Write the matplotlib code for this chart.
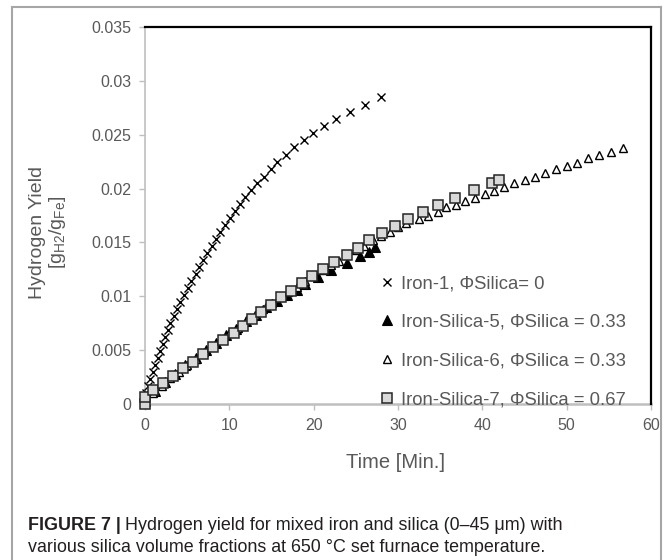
import matplotlib
matplotlib.use("Agg")
import matplotlib.pyplot as plt
from matplotlib import font_manager
from matplotlib.lines import Line2D

# ---------------- data ----------------
iron1_x = [0.1, 0.35, 0.6, 0.9, 1.2, 1.5, 1.8, 2.1, 2.4, 2.7, 3.0, 3.4, 3.8, 4.2, 4.6,
           5.1, 5.5, 6.0, 6.4, 6.9, 7.4, 7.9, 8.4, 8.9, 9.5, 10.1, 10.7, 11.3, 11.9, 12.6,
           13.3, 14.1, 14.9, 15.7, 16.7, 17.7, 18.8, 19.9, 21.2, 22.7, 24.3, 26.1, 28.0]
iron1_y = [0.0010, 0.0017, 0.0023, 0.0030, 0.0036, 0.0043, 0.0049, 0.0056, 0.0062, 0.0069,
           0.0075, 0.0082, 0.0088, 0.0095, 0.0101, 0.0108, 0.0114, 0.0121, 0.0127, 0.0134,
           0.0140, 0.0147, 0.0153, 0.0160, 0.0166, 0.0173, 0.0179, 0.0186, 0.0192, 0.0199,
           0.0205, 0.0211, 0.0218, 0.0225, 0.0231, 0.0239, 0.0245, 0.0252, 0.0258, 0.0265,
           0.0271, 0.0278, 0.0285]

silica5_x = [0.0, 1.2, 2.4, 3.6, 4.8, 6.0, 7.2, 8.4, 9.6, 10.8, 12.0, 13.2, 14.4, 15.6,
             16.8, 18.0, 19.0, 20.5, 22.1, 23.9, 25.5, 26.6, 27.3]
silica5_y = [0.0003, 0.0012, 0.0020, 0.0028, 0.0036, 0.0043, 0.0050, 0.0057, 0.0064, 0.0070,
             0.0077, 0.0083, 0.0090, 0.0096, 0.0101, 0.0106, 0.0111, 0.0118, 0.0124, 0.0131,
             0.0137, 0.0141, 0.0146]

silica6_x = [0, 1, 2, 3, 4, 5, 6, 7, 8, 9, 10, 11, 12, 13, 14, 15, 16, 17, 18, 19, 20,
             21, 22, 23, 24, 25, 26, 27, 28, 29, 30, 31,
             32.5, 33.6, 34.7, 35.7, 36.9, 38.0, 39.1, 40.3, 41.4, 42.6, 43.7, 45.0, 46.2,
             47.4, 48.7, 50.0, 51.2, 52.5, 53.8, 55.2, 56.7]
silica6_y = [0.0003, 0.0010, 0.0017, 0.0024, 0.0030, 0.0036, 0.0042, 0.0048, 0.0054, 0.0060,
             0.0066, 0.0071, 0.0077, 0.0083, 0.0088, 0.0094, 0.0099, 0.0104, 0.0109, 0.0114,
             0.0119, 0.0124, 0.0129, 0.0133, 0.0138, 0.0143, 0.0147, 0.0152, 0.0156, 0.0160,
             0.0164, 0.0168,
             0.0172, 0.0175, 0.0178, 0.0183, 0.0185, 0.0188, 0.0191, 0.0195, 0.0198, 0.0201,
             0.0205, 0.0208, 0.0211, 0.0214, 0.0218, 0.0221, 0.0224, 0.0228, 0.0231, 0.0234,
             0.0238]

silica7_x = [0.0, 0.0, 0.95, 2.1, 3.3, 4.5, 5.7, 6.9, 8.1, 9.3, 10.5, 11.6, 12.7, 13.8, 14.9,
             16.1, 17.3, 18.6, 19.8, 21.1, 22.4, 23.9, 25.2, 26.6, 28.1, 29.7, 31.2, 33.0,
             34.8, 36.8, 39.0, 41.1, 42.0]
silica7_y = [0.0000, 0.00065, 0.0013, 0.00195, 0.0026, 0.0033, 0.0039, 0.0046, 0.0053, 0.0059,
             0.0066, 0.0072, 0.0079, 0.0085, 0.0092, 0.0099, 0.0105, 0.0112, 0.0119, 0.0125,
             0.0132, 0.0138, 0.0145, 0.0152, 0.0159, 0.0165, 0.0172, 0.0178, 0.0185, 0.0191,
             0.0199, 0.0205, 0.0208]

labels = ["Iron-1, ΦSilica= 0",
          "Iron-Silica-5, ΦSilica = 0.33",
          "Iron-Silica-6, ΦSilica = 0.33",
          "Iron-Silica-7, ΦSilica = 0.67"]

x_ticks = [0, 10, 20, 30, 40, 50, 60]
y_ticks = [0, 0.005, 0.01, 0.015, 0.02, 0.025, 0.03, 0.035]
y_ticklabels = ["0", "0.005", "0.01", "0.015", "0.02", "0.025", "0.03", "0.035"]

x_title = "Time [Min.]"
y_title_1 = "Hydrogen Yield"
y_title_2 = "[g$_{H2}$/g$_{Fe}$]"
caption_bold = "FIGURE 7 |"
caption_rest_1 = "Hydrogen yield for mixed iron and silica (0–45 μm) with"
caption_rest_2 = "various silica volume fractions at 650 °C set furnace temperature."

# ---------------- style ----------------
plt.rcParams['font.family'] = ['Liberation Sans', 'DejaVu Sans']
plt.rcParams['mathtext.default'] = 'regular'
GRAY_TXT = '#595959'
GRAY_AX = '#bfbfbf'

W, H = 668, 560
fig = plt.figure(figsize=(W / 100, H / 100), dpi=100)
fig.patch.set_facecolor('white')

# outer gray frame
frame_col = '#a6a6a6'
fig.add_artist(Line2D([12 / W, 12 / W], [0, 1 - 7 / H], color=frame_col, lw=1.5))
fig.add_artist(Line2D([12 / W, 661 / W], [1 - 7 / H, 1 - 7 / H], color=frame_col, lw=1.5))
fig.add_artist(Line2D([661 / W, 661 / W], [0, 1 - 7 / H], color=frame_col, lw=1.5))

ax = fig.add_axes([145 / W, 1 - 404 / H, (651 - 145) / W, (404 - 27) / H])

h1, = ax.plot(iron1_x, iron1_y, linestyle='none', marker='x', ms=6.2, mew=1.0,
              color='black', label=labels[0], clip_on=False)
h2, = ax.plot(silica5_x, silica5_y, linestyle='none', marker='^', ms=6.5, mew=0.8,
              mfc='black', mec='black', label=labels[1], clip_on=False)
h3, = ax.plot(silica6_x, silica6_y, linestyle='none', marker='^', ms=6, mew=1.0,
              mfc='white', mec='black', label=labels[2], clip_on=False)
h4, = ax.plot(silica7_x, silica7_y, linestyle='none', marker='s', ms=6.5, mew=1.1,
              mfc='#d9d9d9', mec='#262626', label=labels[3], clip_on=False)

ax.set_xlim(0, 60)
ax.set_ylim(0, 0.035)
ax.set_xticks(x_ticks)
ax.set_yticks(y_ticks)
ax.set_yticklabels(y_ticklabels)
ax.tick_params(axis='both', direction='out', length=4, width=1, color=GRAY_AX,
               labelcolor=GRAY_TXT, labelsize=11.5, pad=6)

for side in ['top', 'right']:
    ax.spines[side].set_color('black')
    ax.spines[side].set_linewidth(1.6)
ax.spines['left'].set_color(GRAY_AX)
ax.spines['left'].set_linewidth(1.2)
ax.spines['bottom'].set_color(GRAY_AX)
ax.spines['bottom'].set_linewidth(1.8)
ax.spines['left'].set_zorder(0.5)
ax.spines['bottom'].set_zorder(0.5)

# axis titles
fig.text(396 / W, 1 - 463 / H, x_title, ha='center', va='center', fontsize=14.5, color=GRAY_TXT)
fig.text(38 / W, 1 - 232 / H, y_title_1, ha='center', va='center', rotation=90,
         fontsize=14, color=GRAY_TXT)
fig.text(58 / W, 1 - 232 / H, y_title_2, ha='center', va='center', rotation=90,
         fontsize=14, color=GRAY_TXT)

leg = ax.legend(handles=[h1, h2, h3, h4], loc='upper left',
                bbox_to_anchor=(371 / W, 1 - 266 / H), bbox_transform=fig.transFigure,
                frameon=False, borderpad=0, handlelength=0.7, handletextpad=0.45,
                labelspacing=1.17, fontsize=13.3, labelcolor=GRAY_TXT, markerscale=1.0)

# caption
names = {f.name for f in font_manager.fontManager.ttflist}
cap_family = ['Liberation Sans Narrow'] if 'Liberation Sans Narrow' in names else ['Liberation Sans']
cap_size = 12.9
t_b = fig.text(28 / W, 1 - 526 / H, caption_bold, ha='left', va='center', fontsize=cap_size,
               fontweight='bold', color='#231f20', family=cap_family)
fig.canvas.draw()
r = fig.canvas.get_renderer()
bb = t_b.get_window_extent(renderer=r)
fig.text((bb.x1 + 4) / W, 1 - 526 / H, caption_rest_1, ha='left', va='center',
         fontsize=cap_size, color='#231f20', family=cap_family)
fig.text(28 / W, 1 - 547 / H, caption_rest_2, ha='left', va='center',
         fontsize=cap_size, color='#231f20', family=cap_family)

fig.savefig('out.png', dpi=100)
